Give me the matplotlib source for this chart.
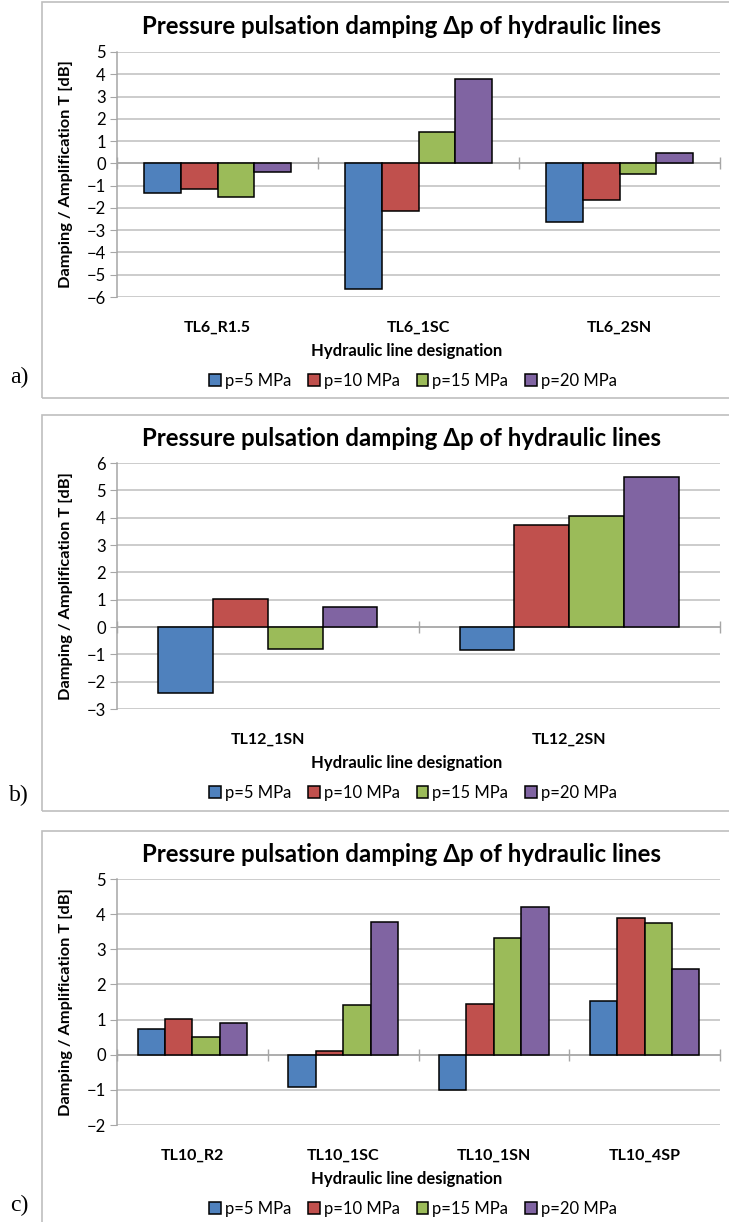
import numpy as np
import matplotlib.pyplot as plt
from matplotlib.patches import Rectangle

# data
series = ['p=5 MPa', 'p=10 MPa', 'p=15 MPa', 'p=20 MPa']
colors = ['#4F81BD', '#C0504D', '#9BBB59', '#8064A2']

cats_a = ['TL6_R1.5', 'TL6_1SC', 'TL6_2SN']
vals_a = [[-1.31, -5.63, -2.64],
          [-1.14, -2.13, -1.63],
          [-1.49, 1.39, -0.48],
          [-0.37, 3.79, 0.46]]

cats_b = ['TL12_1SN', 'TL12_2SN']
vals_b = [[-2.43, -0.85],
          [1.03, 3.75],
          [-0.79, 4.05],
          [0.74, 5.50]]

cats_c = ['TL10_R2', 'TL10_1SC', 'TL10_1SN', 'TL10_4SP']
vals_c = [[0.73, -0.91, -1.01, 1.54],
          [1.01, 0.11, 1.44, 3.88],
          [0.50, 1.41, 3.31, 3.75],
          [0.90, 3.77, 4.19, 2.44]]

title = 'Pressure pulsation damping \u0394p of hydraulic lines'
ylabel = 'Damping / Amplification T [dB]'
xlabel = 'Hydraulic line designation'

W, H = 729, 1222
fig = plt.figure(figsize=(W / 100, H / 100), dpi=100)
plt.rcParams['font.family'] = ['Lato', 'DejaVu Sans']

def fx(px):
    return px / W

def fy(py):
    return 1 - py / H

def panel(cats, vals, ylim, top, bottom, box, letter, letter_y):
    # chart area border
    fig.patches.append(Rectangle((fx(42), fy(box[1])), fx(760 - 42), (box[1] - box[0]) / H,
                                 transform=fig.transFigure, fill=False,
                                 edgecolor='#BFBFBF', linewidth=1.2))
    ax = fig.add_axes([fx(117), fy(bottom), fx(720 - 117), (bottom - top) / H])
    n = len(series)
    gap = 1.5
    w = 1 / (n + gap)
    x = np.arange(len(cats))
    for i, s in enumerate(series):
        ax.bar(x - 0.5 + w * (gap / 2 + i + 0.5), vals[i], width=w, color=colors[i],
               edgecolor='black', linewidth=1.1, label=s, zorder=3)
    ax.set_xlim(-0.5, len(cats) - 0.5)
    ax.set_ylim(*ylim)
    ax.set_yticks(range(ylim[0], ylim[1] + 1))
    ax.grid(axis='y', color='#BFBFBF', linewidth=1.1, zorder=0)
    ax.axhline(0, color='#A6A6A6', linewidth=1.1, zorder=2)
    ax.plot(np.arange(len(cats) + 1) - 0.5, np.zeros(len(cats) + 1), linestyle='none',
            marker='|', markersize=9, color='#A6A6A6', zorder=2, clip_on=False)
    for sp in ['top', 'right', 'bottom']:
        ax.spines[sp].set_visible(False)
    ax.spines['left'].set_color('#A6A6A6')
    ax.spines['left'].set_linewidth(1.1)
    ax.tick_params(axis='y', length=5, color='#A6A6A6', labelsize=12, pad=3)
    ax.set_xticks(x)
    ax.set_xticklabels(cats, fontsize=11.5, fontweight='bold')
    ax.tick_params(axis='x', length=0, pad=17)
    fig.text(fx(401), fy(top - 25), title, ha='center', va='center',
             fontsize=17.3, fontweight='bold')
    fig.text(fx(66), fy((top + bottom) / 2), ylabel, rotation=90, ha='center', va='center',
             fontsize=11.8, fontweight='bold')
    fig.text(fx(407), fy(bottom + 54), xlabel, ha='center', va='center', fontsize=12,
             fontweight='bold')
    ax.legend(loc='center', bbox_to_anchor=(fx(413), fy(bottom + 84)),
              bbox_transform=fig.transFigure, ncol=4, frameon=False, fontsize=12,
              handlelength=0.7, handleheight=0.7, handletextpad=0.25, columnspacing=1.0)
    fig.text(fx(19), fy(letter_y), letter, ha='center', va='center', fontsize=17,
             family='Liberation Serif')
    return ax

panel(cats_a, vals_a, (-6, 5), 52, 297, (2, 398), 'a)', 377)
panel(cats_b, vals_b, (-3, 6), 463, 709, (415, 811), 'b)', 795)
panel(cats_c, vals_c, (-2, 5), 879, 1125, (831, 1235), 'c)', 1205)

fig.savefig('out.png', dpi=100)
